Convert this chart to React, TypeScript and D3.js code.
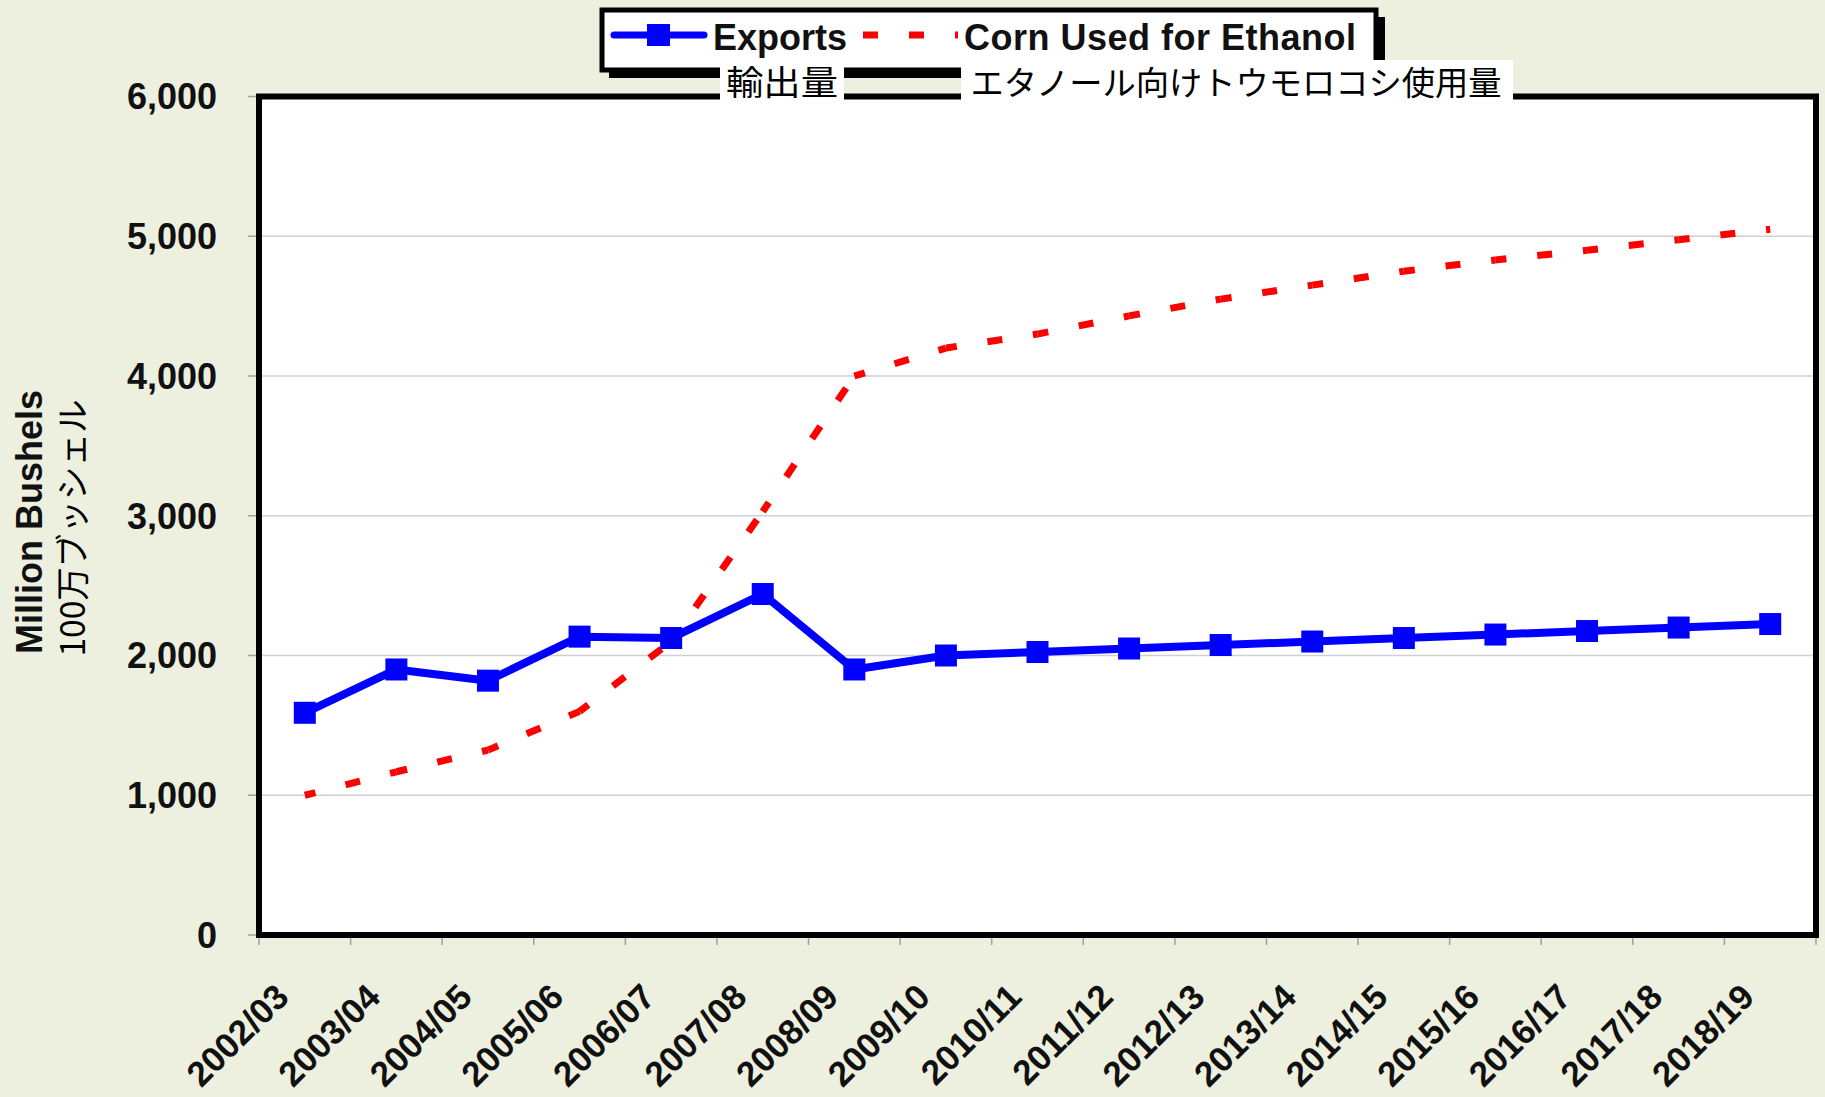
import React from "react";
import * as d3 from "d3";

const seasons = [
  "2002/03", "2003/04", "2004/05", "2005/06", "2006/07", "2007/08", "2008/09", "2009/10", "2010/11",
  "2011/12", "2012/13", "2013/14", "2014/15", "2015/16", "2016/17", "2017/18", "2018/19",
];
// million bushels
const exportsValues = [1590, 1900, 1820, 2135, 2125, 2440, 1900, 2000, 2025, 2050, 2075, 2100, 2125, 2150, 2175, 2200, 2225];
const ethanolValues = [1000, 1168, 1323, 1600, 2100, 3030, 4000, 4200, 4300, 4430, 4550, 4650, 4750, 4830, 4900, 4975, 5050];
const yTicks = [0, 1000, 2000, 3000, 4000, 5000, 6000];

const seriesNames = ["Exports", "Corn Used for Ethanol"];
const seriesNamesJa = ["輸出量", "エタノール向けトウモロコシ使用量"];
const yTitle = "Million Bushels";
const yTitleJa = "100万ブッシェル";

const width = 1825;
const height = 1097;
const plot = { left: 259, right: 1816, top: 96.5, bottom: 935 };
const bg = "#edefdf";
const latin = "'Liberation Sans', Arial, sans-serif";
const cjk = "'Noto Sans CJK JP', sans-serif";

const App = () => {
  const x = d3.scaleBand<string>().domain(seasons).range([plot.left, plot.right]);
  const y = d3.scaleLinear().domain([0, 6000]).range([plot.bottom, plot.top]);
  const cx = (s: string) => (x(s) as number) + x.bandwidth() / 2;

  const line = d3
    .line<number>()
    .x((_, i) => cx(seasons[i]))
    .y((d) => y(d));

  // excel restarts the dash pattern on every segment
  const ethanolSegments = d3.pairs(ethanolValues.map((v, i) => [cx(seasons[i]), y(v)] as [number, number]));

  const boundaries = d3.range(seasons.length + 1).map((i) => plot.left + i * x.step());

  return (
    <div style={{ position: "absolute", left: 0, top: 0 }}>
      <svg width={width} height={height} style={{ display: "block" }}>
        <rect width={width} height={height} fill={bg} />

        {/* plot area */}
        <rect x={plot.left} y={plot.top} width={plot.right - plot.left} height={plot.bottom - plot.top} fill="#fff" />
        {yTicks.slice(1, -1).map((t) => (
          <line key={t} x1={plot.left} x2={plot.right} y1={y(t)} y2={y(t)} stroke="#cfcfcf" strokeWidth={1.5} />
        ))}

        {/* y axis */}
        {yTicks.map((t) => (
          <g key={t}>
            <line x1={plot.left - 11} x2={plot.left} y1={y(t)} y2={y(t)} stroke="#a0a0a0" strokeWidth={1.5} />
            <text
              x={217}
              y={y(t)}
              dy="0.36em"
              textAnchor="end"
              fontFamily={latin}
              fontWeight="bold"
              fontSize={36}
              fill="#111"
            >
              {d3.format(",")(t)}
            </text>
          </g>
        ))}
        <text
          transform={`translate(42,522) rotate(-90)`}
          textAnchor="middle"
          fontFamily={latin}
          fontWeight="bold"
          fontSize={36}
          fill="#111"
        >
          {yTitle}
        </text>
        <text
          transform={`translate(85,528) rotate(-90)`}
          textAnchor="middle"
          fontFamily={cjk}
          fontSize={34}
          textLength={257}
          lengthAdjust="spacingAndGlyphs"
          fill="#000"
        >
          {yTitleJa}
        </text>

        {/* x axis */}
        {boundaries.map((b, i) => (
          <line key={i} x1={b} x2={b} y1={plot.bottom} y2={plot.bottom + 10} stroke="#a0a0a0" strokeWidth={1.5} />
        ))}
        {seasons.map((s) => (
          <text
            key={s}
            transform={`translate(${cx(s) - 14},999) rotate(-45)`}
            textAnchor="end"
            fontFamily={latin}
            fontWeight="bold"
            fontSize={35}
            fill="#111"
          >
            {s}
          </text>
        ))}

        {/* series */}
        {ethanolSegments.map(([a, b], i) => (
          <line
            key={i}
            x1={a[0]}
            y1={a[1]}
            x2={b[0]}
            y2={b[1]}
            stroke="#ff0000"
            strokeWidth={7}
            strokeDasharray="15,31"
            strokeDashoffset={4}
          />
        ))}
        <path d={line(exportsValues) || ""} fill="none" stroke="#0000ff" strokeWidth={8} strokeLinejoin="round" />
        {exportsValues.map((v, i) => (
          <rect key={i} x={cx(seasons[i]) - 11} y={y(v) - 11} width={22} height={22} fill="#0000ff" />
        ))}

        {/* frame */}
        <rect
          x={plot.left}
          y={plot.top}
          width={plot.right - plot.left}
          height={plot.bottom - plot.top}
          fill="none"
          stroke="#000"
          strokeWidth={6}
        />

        {/* legend */}
        <rect x={609} y={17} width={776} height={61} fill="#000" />
        <rect x={602} y={10} width={774} height={60} fill="#fff" stroke="#000" strokeWidth={5} />
        <line x1={614} x2={704} y1={35} y2={35} stroke="#0000ff" strokeWidth={7} strokeLinecap="round" />
        <rect x={647} y={24} width={23} height={22} fill="#0000ff" />
        <text x={713} y={50} fontFamily={latin} fontWeight="bold" fontSize={36} fill="#111">
          {seriesNames[0]}
        </text>
        <line x1={863} x2={958} y1={35} y2={35} stroke="#ff0000" strokeWidth={7} strokeDasharray="15,31" />
        <text x={964} y={50} fontFamily={latin} fontWeight="bold" fontSize={36} textLength={392} fill="#111">
          {seriesNames[1]}
        </text>

        {/* Japanese legend labels */}
        <rect x={720} y={64} width={124} height={38} fill="#fff" />
        <text x={782} y={95} textAnchor="middle" fontFamily={cjk} fontSize={34} textLength={112} lengthAdjust="spacingAndGlyphs" fill="#000">
          {seriesNamesJa[0]}
        </text>
        <rect x={961} y={60} width={552} height={42} fill="#fff" />
        <text x={1236} y={95} textAnchor="middle" fontFamily={cjk} fontSize={33} textLength={531} lengthAdjust="spacingAndGlyphs" fill="#000">
          {seriesNamesJa[1]}
        </text>
      </svg>
    </div>
  );
};

export default App;
